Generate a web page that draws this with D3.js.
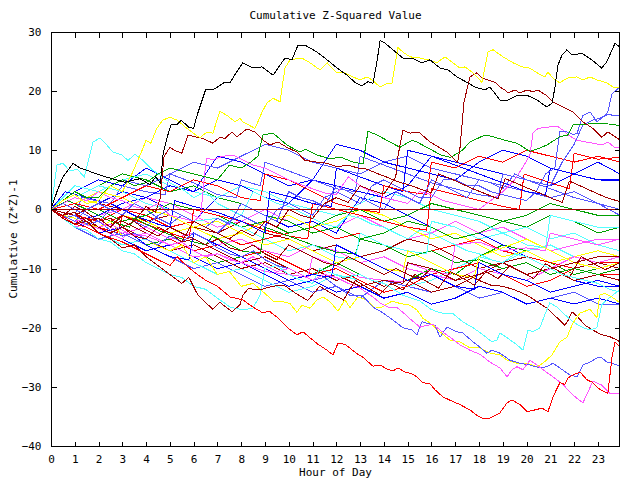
<!DOCTYPE html>
<html><head><meta charset="utf-8">
<script src="https://cdn.jsdelivr.net/npm/d3@7"></script>
<style>
body{margin:0;background:#fff}
text{font-family:"DejaVu Sans Mono","Liberation Mono",monospace;font-size:11px;fill:#000}
</style></head>
<body><svg id="chart" width="640" height="480"></svg>
<script>
// ---------- DATA ----------
const title = "Cumulative Z-Squared Value";
const xLabel = "Hour of Day";
const yLabel = "Cumulative (Z*Z)-1";
const xTicks = [0,1,2,3,4,5,6,7,8,9,10,11,12,13,14,15,16,17,18,19,20,21,22,23];
const yTicks = [-40,-30,-20,-10,0,10,20,30];
const hours = [0,1,2,3,4,5,6,7,8,9,10,11,12,13,14,15,16,17,18,19,20,21,22,23,23.93];

// traced series: [hour, value]
const blackTop = [[0,0],[0.25,3],[0.5,5.5],[0.93,7.8],[1.22,7],[1.51,6.6],[2.06,5.8],[2.48,5.3],[3.11,4.6],[3.74,5.2],[4.16,4.2],[4.4,5.5],[4.6,4.5],[4.72,9.5],[4.87,12],[5.05,14.3],[5.3,14.3],[5.47,15.1],[5.8,13.9],[6.0,13.7],[6.15,16],[6.5,20.2],[6.8,20.2],[7.0,20.7],[7.3,21.5],[7.53,21.4],[7.8,23.2],[8.07,24.8],[8.49,23.9],[8.87,24.1],[9.34,22.7],[9.84,25.6],[10.13,25.3],[10.39,27.8],[10.68,27.8],[11.19,26.6],[11.61,25.3],[12.03,23.9],[12.45,22.7],[12.78,21.5],[13.08,20.9],[13.33,21.6],[13.54,21.3],[13.71,25],[13.84,28.6],[14.05,28.1],[14.38,27],[14.8,25.6],[15.18,25.6],[15.6,24.8],[15.94,25.3],[16.36,23.9],[16.7,23.6],[17.07,22.4],[17.49,21.5],[17.83,20.7],[18.25,20.2],[18.46,20.7],[18.88,18.5],[19.22,18.5],[19.6,19.3],[20.02,19.3],[20.44,18.5],[20.86,17.3],[21.07,18],[21.19,20.5],[21.32,24.4],[21.49,26.1],[21.7,27],[21.91,26.1],[22.33,26.4],[22.74,25.3],[23.16,23.9],[23.38,25],[23.72,28.1],[23.93,27.4]];
const yellowTop = [[0,0],[0.5,1.5],[1,2.5],[1.5,1],[2,1.5],[2.5,4],[3,3],[3.4,6],[3.8,9.7],[4.0,11.7],[4.2,11.2],[4.45,13.7],[4.7,15.1],[5.0,15.6],[5.3,15.1],[5.72,13.7],[6.26,12.1],[6.56,13.1],[6.81,12.9],[7.1,16.6],[7.4,15.9],[7.74,14.8],[7.95,15.4],[8.07,14.8],[8.58,13.7],[8.87,16.4],[9.08,18],[9.34,18.8],[9.63,18.2],[9.84,23.9],[10.05,25.3],[10.55,25.6],[10.89,24.8],[11.31,23.6],[11.61,24.8],[12.03,23.1],[12.36,23.1],[12.7,22.4],[13.0,21.9],[13.29,22.4],[13.5,21.9],[13.84,20.7],[14.13,21.3],[14.34,21.3],[14.59,27.4],[14.8,26.6],[15.1,25.8],[15.52,25.6],[15.85,25.3],[16.23,24.8],[16.57,25.8],[16.9,24.8],[17.2,23.9],[17.41,24.1],[17.75,23.1],[18.12,21.5],[18.38,26.6],[18.59,27],[19.01,25.8],[19.43,24.8],[19.81,24.1],[20.14,23.9],[20.44,23.1],[20.77,22.4],[20.9,23.2],[21.11,22.2],[21.4,21.4],[21.7,22.2],[22.12,22.4],[22.37,21.9],[22.67,22.4],[22.96,21.9],[23.38,21.4],[23.63,20.7],[23.93,20.5]];
const darkRedA = [[0,0],[0.5,-1],[1,-0.5],[1.5,-2],[2,-1.5],[2.5,-3],[3,-1],[3.5,-2],[4,0.5],[4.4,-0.5],[4.6,2],[4.75,8.9],[5.0,10.5],[5.2,10],[5.5,9.5],[5.76,12.6],[6.14,12.2],[6.39,12],[6.81,11.2],[7.1,12.2],[7.32,12],[7.61,13.1],[7.82,12.3],[8.24,13.6],[8.58,13.1],[8.92,11.7],[9.21,10.9],[9.55,11.4],[9.92,10.5],[10.34,9.7],[10.68,8.3],[11.19,8],[11.61,7.8],[12.03,7.2],[12.5,7.5],[12.9,7],[13.3,6.8],[13.7,6.1],[14.1,5.5],[14.5,4.8],[15,4.2],[15.5,3.5],[16,2.8],[16.3,6],[16.8,5.2],[17.3,4.3],[17.8,3.4],[18.3,2.6],[18.8,1.8],[19.1,5.2],[19.6,4.4],[20.1,3.5],[20.6,2.7],[21.1,1.8],[21.5,1.2],[21.8,4.8],[22.3,3.9],[22.8,3],[23.3,2.1],[23.93,1.3]];
const darkRedB = [[0,0],[0.5,-1.5],[1,-2.5],[1.5,-1.5],[2,-3],[2.5,-4],[3,-3],[3.5,-4.5],[4,-5],[4.5,-3],[5,-4],[5.5,-5.5],[6,-2],[6.5,-3],[7,-4],[7.5,-5],[8,-3.5],[8.5,-4.5],[9,-2],[9.5,-3],[10,0],[10.5,-1],[11,-1.5],[11.5,1],[12,2],[12.5,1.2],[13,4],[13.5,3.2],[14,2.6],[14.5,5.5],[14.59,9],[14.8,13.4],[15.1,12.9],[15.39,13.1],[15.52,12.9],[15.94,11.4],[16.36,10.4],[16.65,9.7],[16.9,8.7],[17.1,8],[17.2,10.4],[17.37,18.2],[17.62,22.4],[17.91,23.1],[18.12,22.2],[18.38,21.9],[18.67,21.5],[18.88,20.7],[19.09,20.2],[19.22,19.7],[19.51,20.2],[19.72,19.7],[20.02,20.2],[20.27,19.9],[20.48,20.2],[20.86,19.2],[21.11,18.2],[21.53,17.3],[21.95,16.5],[22.37,14.8],[22.79,13.7],[23.16,12.2],[23.42,13.1],[23.8,12.1],[23.93,11.7]];
const darkRedC = [[0,0],[0.5,-1.5],[1,-2.5],[1.5,-2],[2,-4],[2.5,-5],[3,-6.5],[3.5,-6],[4,-8],[4.5,-9.5],[5,-11],[5.5,-12.5],[5.8,-11.5],[6.18,-14.5],[6.81,-16.9],[7.1,-15.7],[7.61,-17.3],[7.95,-16.1],[8.07,-14.5],[8.3,-13.4],[8.8,-13.6],[9.3,-13],[9.8,-12.8],[10.3,-14.2],[10.8,-15.4],[11.3,-13],[11.8,-14.2],[12.3,-15.3],[12.8,-12],[13.3,-13.2],[13.8,-14.4],[14.3,-12.5],[14.8,-13.6],[15.3,-11],[15.8,-12.2],[16.3,-13.3],[16.8,-10.5],[17.3,-11.6],[17.8,-12.8],[18.3,-10.5],[18.8,-11.7],[19.3,-9.5],[19.8,-10.6],[20.3,-11.7],[20.8,-9.2],[21.3,-10.3],[21.8,-11.5],[22.3,-8],[22.8,-9.1],[23.3,-10.2],[23.93,-9]];
const redBottom = [[0,0],[0.5,-1.2],[1,-2.5],[1.5,-3],[2,-4],[2.5,-4.8],[3,-5.5],[3.5,-6.5],[4,-7.5],[4.5,-8.5],[5,-9.5],[5.3,-8],[5.7,-9.5],[6,-10.5],[6.5,-12],[7,-13],[7.53,-14.8],[8.07,-15.3],[8.49,-16.5],[8.87,-17.4],[9.21,-17.3],[9.5,-18.2],[9.92,-19.9],[10.34,-21.2],[10.6,-20.7],[10.89,-21.7],[11.23,-22.8],[11.61,-23.8],[11.86,-24.6],[12.07,-22.6],[12.36,-22.8],[12.87,-24.4],[13.12,-25],[13.54,-26.5],[13.84,-26.3],[14.13,-27],[14.38,-27.3],[14.59,-26.8],[14.89,-27.5],[15.18,-27.8],[15.39,-28.3],[15.64,-29.3],[15.94,-29.5],[16.15,-30.5],[16.48,-31.7],[16.86,-32.4],[17.2,-33],[17.62,-33.9],[17.91,-34.8],[18.17,-35.4],[18.46,-35.3],[18.88,-34.4],[19.18,-32.7],[19.39,-32.2],[19.72,-33],[20.02,-34.2],[20.35,-33.9],[20.65,-33.6],[20.9,-34.2],[21.11,-31.7],[21.4,-29.3],[21.61,-29.6],[21.74,-28.5],[21.95,-28],[22.25,-27.5],[22.54,-28.8],[22.75,-29.2],[23.0,-30.2],[23.3,-30.9],[23.42,-31.1],[23.59,-25.1],[23.72,-22.4],[23.93,-23.2]];
const magentaBottom = [[0,0],[0.5,-1],[1,-2],[1.5,-1.5],[2,-3],[2.5,-2.5],[3,-3.5],[3.5,-4.5],[4,-4],[4.5,-5],[5,-6],[5.5,-5.5],[6,-7],[6.5,-8],[7,-7.5],[7.5,-8.5],[8,-9],[8.5,-8],[9,-9.5],[9.5,-10.5],[10,-10],[10.5,-11],[11,-12],[11.5,-11],[12,-11.5],[12.5,-12.5],[13,-13.3],[13.54,-14.8],[13.84,-15.8],[14.17,-16.5],[14.55,-16.6],[14.8,-17.4],[15.1,-18.5],[15.52,-19.9],[15.81,-19.6],[16.06,-19.4],[16.36,-20.4],[16.78,-21.6],[17.2,-22.9],[17.62,-23.8],[18.04,-24.5],[18.46,-25.8],[18.88,-26.8],[19.18,-28.3],[19.39,-27.1],[19.6,-26.6],[19.85,-27.1],[20.14,-25.5],[20.44,-26.3],[20.69,-27.1],[21.11,-28.3],[21.53,-29.6],[21.95,-31.4],[22.37,-32.7],[22.58,-30.9],[22.79,-29],[23.16,-29.7],[23.51,-31.1],[23.93,-31.1]];
const lightBlueBottom = [[0,0],[0.5,-1.5],[1,-1],[1.5,-2.5],[2,-2],[2.5,-3.5],[3,-4.5],[3.5,-4],[4,-5],[4.5,-6],[5,-4.5],[5.5,-5.5],[6,-4],[6.5,-5],[7,-6.5],[7.5,-7.5],[8,-8],[8.5,-7],[9,-8.5],[9.5,-9.5],[10,-10],[10.5,-11],[11,-12],[11.5,-11.5],[12,-13],[12.57,-14.5],[13.08,-14.5],[13.54,-16.5],[13.96,-17.5],[14.38,-18.7],[14.8,-20],[15.18,-20.4],[15.39,-21.2],[15.6,-19],[15.94,-19.4],[16.15,-19.6],[16.36,-21.6],[16.65,-19.9],[17.07,-20.7],[17.32,-20.9],[17.75,-22.4],[18.04,-23.3],[18.33,-24.3],[18.54,-23.8],[18.88,-24.3],[19.3,-25.5],[19.72,-26],[20.14,-26.3],[20.56,-26.8],[20.86,-26.6],[21.11,-26],[21.4,-26.8],[21.82,-28],[22.12,-28.3],[22.37,-26.3],[22.67,-25.8],[22.96,-25.1],[23.16,-25.1],[23.38,-25.8],[23.59,-26],[23.93,-26.5]];
const yellowBottom = [[0,0],[0.5,-1],[1,-1.5],[1.5,-2.5],[2,-3],[2.5,-2],[3,-4.5],[3.5,-4],[4,-5],[4.5,-6.2],[5,-7],[5.5,-6],[6,-9],[6.5,-8],[7,-11],[7.5,-10.5],[8,-13],[8.5,-12.5],[9.08,-14.5],[9.34,-15.5],[9.63,-15.5],[10.05,-15.9],[10.34,-17.4],[10.55,-16.2],[10.89,-16.7],[11.19,-15.3],[11.44,-14.8],[11.73,-15.6],[12.07,-17.2],[12.36,-15.3],[12.57,-16.6],[12.91,-14.8],[13.29,-15.3],[13.62,-16.7],[13.92,-16.5],[14.34,-15.5],[14.68,-15.9],[15.1,-16.2],[15.39,-17],[15.64,-18.4],[15.94,-19.2],[16.36,-20.7],[16.78,-22.1],[17.2,-22.4],[17.62,-23.4],[18.04,-23.4],[18.46,-24.3],[18.88,-24.6],[19.18,-25.5],[19.6,-26],[20.02,-26],[20.44,-26.6],[20.69,-26],[21.07,-24.6],[21.4,-22.4],[21.7,-21.6],[21.95,-19.2],[22.25,-17.5],[22.67,-16.9],[22.96,-18.3],[23.08,-14.5],[23.3,-14.2],[23.59,-14.8],[23.93,-15.8]];
const cyanLow = [[0,0],[0.5,-1.5],[1,-3],[1.5,-3.5],[2,-5],[2.5,-5.5],[3,-7],[3.5,-7.5],[4,-9],[4.5,-10],[5,-11],[5.5,-11.5],[6,-13],[6.5,-13.5],[7,-15],[7.53,-16.5],[8.07,-17],[8.49,-16.7],[8.79,-14.5],[9.0,-10],[9.5,-9.5],[10,-11],[10.5,-12],[11,-12.5],[11.3,-10],[11.8,-10.8],[12.3,-11.5],[13,-11],[13.5,-12],[14,-12.5],[14.8,-14.5],[15.52,-15.5],[15.94,-16.8],[16.36,-17.5],[16.9,-17.6],[17.32,-19],[17.75,-20],[18.17,-21.2],[18.54,-22.4],[18.75,-22.1],[18.88,-20.9],[19.18,-21.7],[19.6,-22.9],[19.85,-23.8],[20.06,-20.4],[20.27,-20.7],[20.56,-20],[20.77,-17.8],[20.98,-15.8],[21.28,-16.5],[21.53,-17.5],[21.95,-19],[22.37,-20],[22.67,-20.4],[22.96,-20],[23.16,-16.1],[23.38,-15.3],[23.63,-14.5],[23.93,-13.5]];
const darkRedLow = [[0,0],[0.5,-1],[1,0.5],[1.5,-0.5],[2,-2],[2.5,-1.5],[3,-3],[3.5,-2],[4,-3.5],[4.5,-4.5],[5,-3],[5.5,-4],[6,-5],[6.5,-6],[7,-5],[7.5,-6.5],[8,-7],[8.5,-6],[9,-7.5],[9.5,-8.5],[10,-6],[10.5,-7],[11,-8],[11.5,-9],[12,-9.5],[12.5,-8],[13,-9],[13.5,-10],[14,-11],[14.5,-10],[15,-11],[15.5,-11.8],[16,-10],[16.5,-11],[17,-12],[17.5,-11],[18,-12],[18.5,-12.8],[19,-13],[19.5,-13.6],[20.02,-14.5],[20.44,-15.6],[20.86,-16.7],[21.28,-18.3],[21.61,-19.6],[21.74,-18.8],[21.91,-17.3],[22.16,-18.2],[22.46,-19.6],[22.79,-20.4],[23.16,-21.2],[23.5,-21.5],[23.8,-22.1],[23.93,-22.4]];
const cyanTop = [[0,0],[0.25,7.5],[0.5,7.8],[0.8,6.5],[1.1,6.8],[1.4,5.5],[1.77,11.4],[2.06,12.1],[2.35,10.9],[2.6,9.7],[2.98,9.2],[3.24,8.3],[3.53,9.3],[3.87,8.3],[4.29,6.6],[4.7,5.5],[5,4.5],[5.5,3.5],[6,2],[6.5,3],[7,1],[7.5,0],[8,-1],[8.5,3],[9,2],[9.5,1],[10,0.5],[10.5,-0.5],[11,-1.5],[11.5,-2.5],[12,-3],[12.5,-1],[13,-1.5],[13.5,-2.5],[14,-3],[14.5,-4],[15,-5],[15.5,-3.5],[16,-4],[16.5,-5],[17,-6],[17.5,-7],[18,-7.5],[18.5,-8.5],[19,-9],[19.5,-7.5],[20,-8],[20.5,-9],[21,-10],[21.5,-11],[22,-11.5],[22.5,-12],[23,-12.5],[23.5,-13.5],[23.93,-14]];
const magentaTop = [[0,0],[0.5,1],[1,2],[1.5,1.5],[2,3],[2.5,2],[3,1.5],[3.5,0.5],[4,0],[4.5,1],[5,-1],[5.5,-1.5],[6,-2],[6.3,-1],[6.5,7.5],[6.56,8.7],[6.8,8.4],[7.23,9],[7.65,9.2],[8,8.5],[8.5,7.5],[9,7],[9.5,6],[10,5],[10.5,4.2],[11,3.5],[11.5,2.8],[12,2.5],[12.5,5.5],[13,4],[13.5,3],[14,2],[14.5,1.5],[15,1],[15.5,3],[16,2.5],[16.5,1.5],[17,1],[17.5,0.5],[18,0],[18.5,1.5],[19,3],[19.5,5],[19.9,7.5],[20.14,9.2],[20.27,12.9],[20.48,13.7],[20.86,13.9],[21.28,14.1],[21.53,13.4],[21.74,12.6],[22.12,11.7],[22.37,11.5],[22.79,11.2],[23.16,10.9],[23.42,11.4],[23.7,10.5],[23.93,10.4]];
const lightBlueTop = [[0,0],[0.5,-1],[1,-2],[1.5,0],[2,1],[2.5,0],[3,-1],[3.5,-2],[4,-3],[4.5,-1],[5,0],[5.5,-1],[6,-2],[6.5,-3],[7,-4],[7.5,-2],[8,-1],[8.5,-2],[9,-3],[9.5,0],[10,1],[10.5,0],[11,-1],[11.5,2],[12,3],[12.5,2],[13,1],[13.5,4],[14,5],[14.5,4],[15,3],[15.5,2],[16,2],[16.5,5],[17,5],[17.5,4],[18,4],[18.5,3],[19,2.5],[19.5,2],[20,1.5],[20.4,3],[20.8,6],[21.19,7],[21.4,13.1],[21.7,13.1],[21.95,12.7],[22.12,12.8],[22.37,15.9],[22.67,16.5],[22.96,14.8],[23.2,15.6],[23.42,16.5],[23.59,19.5],[23.72,20],[23.93,20.7]];
const lightBlueTop2 = [[0,0],[0.5,1],[1,0],[1.5,-1],[2,-2],[2.5,0],[3,-1],[3.5,1],[4,0],[4.5,-1.5],[5,-2.5],[5.5,-1],[6,-2],[6.5,-3],[7,-1.5],[7.5,-2.5],[8,1],[8.5,0],[9,-1],[9.5,-2],[10,3],[10.5,2],[11,1.5],[11.5,0.5],[12,4],[12.5,3],[13,2],[13.5,1],[14,0],[14.5,3],[15,2],[15.5,1],[16,5],[16.5,4],[17,3],[17.5,2],[18,5],[18.5,4.5],[19,3.5],[19.5,6],[20,5],[20.5,4.5],[21,4],[21.5,8],[22,11],[22.37,14.3],[22.54,14.6],[22.79,15.1],[23.08,15.4],[23.38,16],[23.93,15.9]];
const greenTop = [[0,0],[0.5,1.5],[1,3],[1.5,2],[2,2],[2.5,4],[3,5],[3.5,4],[4,4.5],[4.5,6],[5,7],[5.5,6.5],[6,6],[6.5,5.5],[7,5],[7.5,7.5],[8,7],[8.4,8],[8.7,9],[8.92,12.6],[9.34,12.9],[9.92,10.9],[10.47,9.7],[10.7,10.2],[11.19,9.2],[11.7,8.6],[12.2,8.8],[12.7,8],[13.12,7.7],[13.33,13.2],[13.71,12.6],[14.25,11.4],[14.68,10.5],[15.18,11.7],[15.39,11.4],[15.94,10.2],[16.4,9.2],[16.8,8.8],[17.3,10],[17.62,11.4],[18.25,12.6],[18.67,12.2],[19.09,11.7],[19.6,11.2],[20.14,9.8],[20.44,10.2],[20.86,10.9],[21.4,12.3],[21.74,12.6],[21.95,14.3],[22.37,14.3],[22.79,14.6],[23.2,14.5],[23.63,14.4],[23.93,14.1]];

// middle-band series with sudden rises: [hour, value]
const m01 = [[0,0],[1,-2],[2,-3],[2.8,-4],[3,-1],[4,-2.5],[5,-4],[5.8,-5],[6,0],[7,-1],[8,-2],[9,-3.5],[10,-4.5],[10.8,-5],[11,1],[12,0],[13,-1],[14,-2],[15,-3],[15.8,-3.5],[16,3.5],[17,2.5],[18,1.5],[19,0.5],[19.7,0],[19.9,6],[21,4.5],[21.8,3.5],[22,9.5],[23,8.5],[23.93,8.8]];
const m02 = [[0,0],[0.7,1.5],[1.5,0],[2.5,-2],[3.3,-3],[3.5,-1.5],[4.5,-3.5],[5.5,-5],[6.5,-6],[6.8,-4.5],[8,-7],[8.8,-7.5],[9,-3],[10,-4.5],[11,-6],[12,-7.2],[12.8,-7.5],[13,-5],[14,-6],[15,-8],[16,-7],[17,-9],[18,-8.5],[19,-10],[20,-9],[21,-11],[22,-10],[23,-11],[23.93,-10]];
const m03 = [[0,0],[0.6,3],[1.5,2],[2.5,1],[3.5,-1],[4.5,-2.5],[5,-3],[5.2,1.5],[6,0.5],[7,-0.5],[8,-2],[9,-4],[9.2,3],[10,2.2],[11,1],[11.8,0.5],[12,7],[13,5.5],[14,4],[14.8,3],[15,10],[16,9],[17,7.5],[18,6],[19,4.5],[20,3],[20.8,2.5],[21,7],[22,6],[23,5],[23.93,4.8]];
const m04 = [[0,0],[1,-1],[1.3,2],[2.5,1],[3,4],[4,3],[4.8,2.5],[5,6],[6,4.5],[7,2.5],[7.8,2],[8,5],[8.8,4],[9,8],[10,6.5],[11,5],[12,3.5],[12.8,3],[13,9],[14,7.5],[15,6],[16,4.5],[17,3.5],[18,2.5],[18.8,2],[19,6],[20,5],[21,3.5],[22,2],[23,1],[23.93,-1]];
const m05 = [[0,0],[1,-2],[2,-3.2],[3,-5],[3.2,-4],[4,-4.5],[5,-6],[6,-8],[7,-7.5],[8,-9],[9,-10.5],[10,-11],[10.8,-11.5],[11,-8],[12,-9.5],[13,-11.5],[14,-12],[14.8,-12.2],[15,-9],[16,-10.5],[16.8,-11],[17,-6],[18,-5.5],[19,-7],[20,-6.5],[20.8,-7],[21,-4],[22,-5],[23,-6],[23.93,-5]];
const m06 = [[0,0],[1,2],[2,4],[3,3],[4,1],[5,0],[6,-2],[7,-1.5],[8,-3],[9,-5],[10,-7],[11,-6],[12,-8],[12.8,-8.5],[13,-4],[14,-6],[15,-7],[15.8,-7.5],[16,-2],[17,-3],[18,-5],[19,-4],[20,-6],[20.8,-6.5],[21,-1],[22,-2],[23,-3],[23.93,-3]];
const m07 = [[0,0],[1,1],[2,3],[3,2],[4,0],[5,-1],[6,-3],[7,-2],[8,-4],[9,-6],[10,-5],[11,-7],[12,-9],[13,-8],[14,-10],[14.8,-10.5],[15,-7],[16,-9],[17,-11],[17.8,-11.5],[18,-8],[19,-6.5],[20,-5],[21,-7],[22,-9],[23,-10],[23.93,-9]];
const m08 = [[0,0],[1,-1],[2,-3],[3,-2],[4,-4],[5,-6],[6,-5],[7,-7],[8,-9],[9,-8],[10,-10],[11,-12],[12,-11],[13,-13],[14,-12],[14.8,-12.5],[15,-9],[16,-10],[17,-12],[18,-11],[19,-9],[20,-8],[21,-10],[22,-9],[23,-8],[23.93,-8]];
const m09 = [[0,0],[1,-2],[2,-4],[3,-3],[4,-6],[5,-8],[5.8,-8.5],[6,-4],[7,-6],[8,-8],[9,-10],[10,-12],[11,-11],[11.8,-11.5],[12,-6],[13,-8],[14,-10],[15,-12],[16,-11],[17,-13],[17.8,-13.5],[18,-9],[19,-11],[20,-12],[21,-14],[22,-13],[23,-12],[23.93,-13]];
const m10 = [[0,0],[1,1],[2,0],[3,2],[4,4],[5,3],[6,5],[7,4],[8,2],[8.8,1.5],[9,6],[10,5],[11,3],[12,1],[13,0],[13.8,-0.5],[14,4],[15,3],[15.8,2.5],[16,8],[17,7],[18,9],[19,8],[20,10],[21,9],[22,8],[23,9],[23.93,8]];

// hourly series (values at `hours`)
const h11 = [0,-1,-2,-4,-6,-5,-7,-9,-8,-10,-12,-11,-9,-11,-13,-12,-10,-11,-8,-6,-7,-9,-11,-10,-9];
const h12 = [0,2,1,3,2,0,-2,2,1,-1,-3,-2,-4,2,1,-1,-3,-5,-4,-6,-8,-10,-12,-13,-13];
const h13 = [0,-3,-5,-4,-6,-8,-10,-9,-11,-13,-12,-14,-13,-15,-12,-13,-14,-13,-15,-14,-16,-15,-14,-16,-16];
const h14 = [0,1,-1,0,2,1,-1,-3,-2,0,-2,-4,-3,-1,-3,-5,-4,-2,-4,-3,-5,-7,-6,-5,-5];
const h15 = [0,-2,-4,-6,-5,-7,-9,-11,-10,-12,-14,-13,-11,-12,-14,-13,-12,-10,-8,-9,-7,-6,-8,-9,-9];
const h16 = [0,2,1,-1,-2,-4,-3,-5,-4,-2,-1,-3,-2,0,-1,-3,-5,-4,-6,-8,-7,-9,-8,-7,-8];
const h17 = [0,-1,1,0,-2,-1,-3,-4,-2,-4,-5,-7,-6,-8,-7,-5,-6,-8,-10,-9,-11,-10,-12,-11,-12];
const h18 = [0,3,5,4,7,5,3,9,8,6,4,5,11,10,8,7,6,5,8,10,9,7,6,8,6];
const h19 = [0,-2,-3,-1,-3,-5,-7,-6,-8,-7,-9,-11,-10,-12,-14,-13,-11,-10,-9,-11,-13,-12,-10,-9,-9];
const h20 = [0,2,4,6,5,3,4,2,1,-1,-2,-4,-3,-5,-4,-2,-3,-5,-4,-2,-3,-1,-2,-4,-3];
const h21 = [0,-1,-3,-5,-7,-6,-8,-10,-9,-11,-13,-12,-14,-13,-15,-14,-16,-15,-13,-14,-16,-15,-16,-15,-16];
const h22 = [0,1,3,5,4,6,8,7,9,11,10,8,7,6,8,9,7,6,5,4,3,2,3,1,0];
const h23 = [0,-3,-2,-4,-3,-5,-4,-6,-5,-7,-8,-6,-7,-9,-8,-10,-11,-12,-10,-11,-12,-10,-8,-9,-8];
const h24 = [0,4,3,5,6,4,3,2,4,3,1,0,-1,1,3,2,0,-1,-2,-4,-3,-5,-4,-6,-7];
const h25 = [0,-1,-2,0,-1,-3,-2,-4,-6,-5,-4,-3,-5,-4,-6,-8,-7,-6,-5,-7,-8,-9,-10,-11,-11];
const h26 = [0,1,0,-2,-1,1,0,-1,-3,-2,-4,-3,-1,0,-2,-1,1,0,-1,-2,-1,1,0,-1,-1];
const h27 = [0,-2,-1,1,2,4,3,5,4,2,1,5,4,3,2,4,9,8,7,6,5,4,6,5,5];
const h28 = [0,-2,-4,-3,-5,-7,-6,-8,-10,-9,-11,-10,-12,-11,-13,-12,-14,-13,-11,-10,-9,-11,-10,-9,-10];

const hourlySeries = [h11,h12,h13,h14,h15,h16,h17,h18,h19,h20,h21,h22,h23,h24,h25,h26,h27,h28];
const middleSeries = [m01,m02,m03,m04,m05,m06,m07,m08,m09,m10];
const tracedSeries = [darkRedLow,cyanLow,yellowBottom,lightBlueBottom,magentaBottom,darkRedC,redBottom,cyanTop,magentaTop,lightBlueTop2,lightBlueTop,greenTop,darkRedA,darkRedB,yellowTop,blackTop];

// ---------- STYLE ----------
const C = {black:"#000000",yellow:"#ffff00",darkred:"#a00000",green:"#00a000",blue:"#0000ff",lblue:"#5555ff",magenta:"#ff55ff",cyan:"#55ffff",red:"#ff0000"};
const hourlyColors = ["green","blue","lblue","magenta","cyan","yellow","darkred","blue","red","green","blue","lblue","magenta","cyan","red","green","blue","darkred"];
const middleColors = ["red","green","blue","lblue","magenta","cyan","yellow","darkred","blue","red"];
const tracedColors = ["darkred","cyan","yellow","lblue","magenta","darkred","red","cyan","magenta","lblue","lblue","green","darkred","darkred","yellow","black"];

const W = 640, H = 480;
const M = {left:51, right:620, top:32, bottom:446};

const svg = d3.select("#chart");
svg.append("rect").attr("width",W).attr("height",H).attr("fill","#fff");

const x = d3.scaleLinear().domain([0,23.93]).range([M.left, M.right]);
const y = d3.scaleLinear().domain([-40,30]).range([M.bottom, M.top]);

const line = d3.line().x(d=>x(d[0])).y(d=>y(d[1]));
const g = svg.append("g").attr("shape-rendering","crispEdges");

function draw(pts,color){
  g.append("path").datum(pts).attr("d",line).attr("fill","none").attr("stroke",C[color]).attr("stroke-width",1);
}
hourlySeries.forEach((vals,i)=>draw(vals.map((v,j)=>[hours[j],v]),hourlyColors[i]));
middleSeries.forEach((pts,i)=>draw(pts,middleColors[i]));
tracedSeries.forEach((pts,i)=>draw(pts,tracedColors[i]));

// zero line
const y0 = Math.round(y(0))+0.5;
g.append("line").attr("x1",x(0)).attr("x2",x(23.93)).attr("y1",y0).attr("y2",y0).attr("stroke",C.darkred);

// frame
const ax = svg.append("g").attr("shape-rendering","crispEdges");
ax.append("rect").attr("x",M.left+0.5).attr("y",M.top+0.5).attr("width",M.right-M.left-1).attr("height",M.bottom-M.top)
  .attr("fill","none").attr("stroke","#000");

// axes with inward ticks on all four sides
const xb = d3.axisBottom(x).tickValues(xTicks).tickSize(-5).tickPadding(9).tickFormat(d3.format("d"));
const xt = d3.axisTop(x).tickValues(xTicks).tickSize(-5).tickFormat("");
const yl = d3.axisLeft(y).tickValues(yTicks).tickSize(-5).tickPadding(10).tickFormat(d3.format("d"));
const yr = d3.axisRight(y).tickValues(yTicks).tickSize(-5).tickFormat("");

function style(sel){ sel.select(".domain").remove(); sel.selectAll(".tick line").attr("stroke","#000");
  sel.selectAll("text").attr("font-family",null).attr("font-size",null).attr("fill","#000"); }
ax.append("g").attr("transform",`translate(0,${M.bottom+0.5})`).call(xb).call(style);
ax.append("g").attr("transform",`translate(0,${M.top+0.5})`).call(xt).call(style);
ax.append("g").attr("transform",`translate(${M.left+0.5},0)`).call(yl).call(style);
ax.append("g").attr("transform",`translate(${M.right-0.5},0)`).call(yr).call(style);

// labels
svg.append("text").attr("x",(M.left+M.right)/2).attr("y",19).attr("text-anchor","middle").text(title);
svg.append("text").attr("x",(M.left+M.right)/2).attr("y",476).attr("text-anchor","middle").text(xLabel);
svg.append("text").attr("transform",`translate(17,${(M.top+M.bottom)/2}) rotate(-90)`).attr("text-anchor","middle").text(yLabel);
</script></body></html>
